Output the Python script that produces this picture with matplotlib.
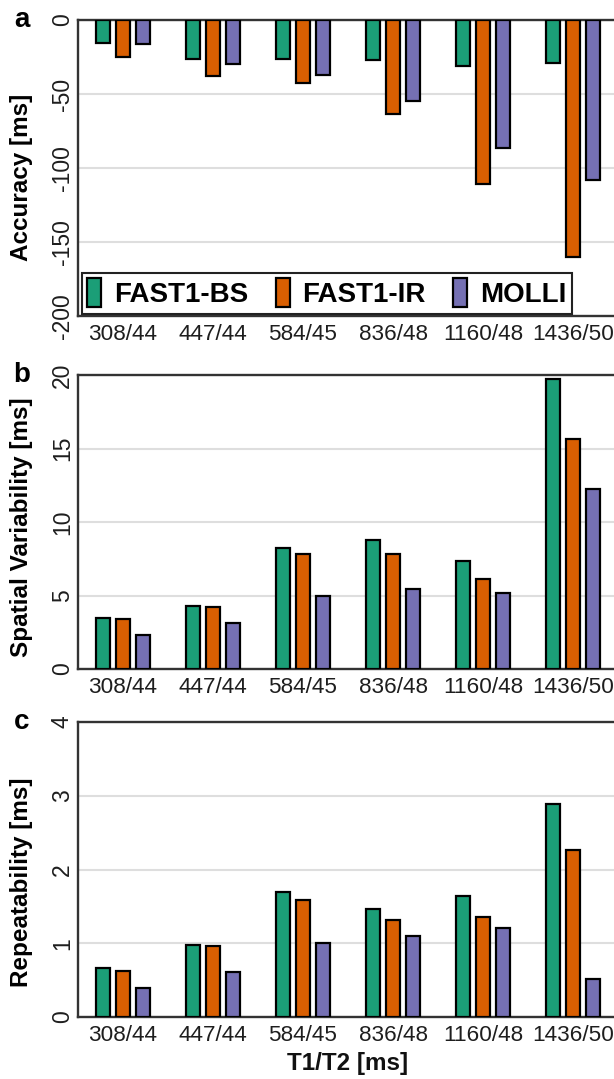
import matplotlib
matplotlib.use("Agg")
import matplotlib.pyplot as plt
import numpy as np

plt.rcParams['font.family'] = ['Liberation Sans', 'DejaVu Sans']
plt.rcParams['axes.unicode_minus'] = False

categories = ['308/44', '447/44', '584/45', '836/48', '1160/48', '1436/50']
series_names = ['FAST1-BS', 'FAST1-IR', 'MOLLI']
colors = ['#1b9e77', '#d95f02', '#7570b3']

accuracy_bs = [-15.5, -26.5, -26.5, -27.0, -31.0, -28.8]
accuracy_ir = [-25.0, -37.5, -42.5, -63.5, -110.8, -159.8]
accuracy_molli = [-16.0, -29.5, -37.0, -55.0, -86.3, -108.3]

spatial_bs = [3.45, 4.3, 8.25, 8.75, 7.35, 19.7]
spatial_ir = [3.42, 4.2, 7.85, 7.8, 6.1, 15.65]
spatial_molli = [2.33, 3.1, 4.95, 5.45, 5.15, 12.25]

repeat_bs = [0.66, 0.97, 1.69, 1.46, 1.64, 2.89]
repeat_ir = [0.63, 0.96, 1.59, 1.31, 1.35, 2.26]
repeat_molli = [0.40, 0.61, 1.01, 1.10, 1.21, 0.51]

acc_ticks = [0, -50, -100, -150, -200]
acc_ticklabels = ['0', '-50', '-100', '-150', '-200']
sp_ticks = [0, 5, 10, 15, 20]
sp_ticklabels = ['0', '5', '10', '15', '20']
rep_ticks = [0, 1, 2, 3, 4]
rep_ticklabels = ['0', '1', '2', '3', '4']

W, H = 614, 1079
fig = plt.figure(figsize=(W / 100, H / 100), dpi=100)

left_px, right_px = 78, 618
panels = [
    (20, 316, 'Accuracy [ms]', [accuracy_bs, accuracy_ir, accuracy_molli], (-200, 0), acc_ticks, acc_ticklabels, 'a', 0.468),
    (375, 669, 'Spatial Variability [ms]', [spatial_bs, spatial_ir, spatial_molli], (0, 20), sp_ticks, sp_ticklabels, 'b', 0.481),
    (722, 1017, 'Repeatability [ms]', [repeat_bs, repeat_ir, repeat_molli], (0, 4), rep_ticks, rep_ticklabels, 'c', 0.456),
]

x = np.arange(1, len(categories) + 1)
offset = 0.222
bw = 0.16
txtcol = '#1e1e1e'
spcol = '#333333'

axes = []
for top, bot, ylabel, data, ylim, ticks, ticklabels, letter, ly in panels:
    ax = fig.add_axes([left_px / W, 1 - bot / H, (right_px - left_px) / W, (bot - top) / H])
    axes.append(ax)
    ax.set_axisbelow(True)
    ax.yaxis.grid(True, color='#dedede', linewidth=1.5)
    for i, (vals, col, name) in enumerate(zip(data, colors, series_names)):
        ax.bar(x + (i - 1) * offset, vals, width=bw, color=col, edgecolor='black',
               linewidth=1.6, label=name, zorder=3)
    ax.set_xlim(0.5, 6.5)
    ax.set_ylim(*ylim)
    ax.set_yticks(ticks)
    ax.set_yticklabels(ticklabels, rotation=90, va='center', fontsize=16.5, color=txtcol)
    ax.set_xticks(x)
    ax.set_xticklabels(categories, fontsize=16.2, color=txtcol)
    ax.tick_params(axis='both', length=0)
    ax.tick_params(axis='x', pad=6)
    ax.tick_params(axis='y', pad=3)
    for s in ax.spines.values():
        s.set_color(spcol)
        s.set_linewidth(1.7)
    ax.set_ylabel(ylabel, fontsize=17.5, fontweight='bold', va='center', color='black')
    ax.yaxis.set_label_coords(-(left_px - 22) / (right_px - left_px), ly)
    fig.text(22 / W, 1 - top / H, letter, fontsize=20, fontweight='bold', ha='center', va='center')

leg = axes[0].legend(loc='lower left', bbox_to_anchor=(0.007, 0.008), borderaxespad=0,
                     ncol=3, prop={'weight': 'bold', 'size': 20},
                     handlelength=0.5, handleheight=1.2, handletextpad=0.45,
                     columnspacing=1.0, borderpad=0.2, fancybox=False, framealpha=1)
leg.get_frame().set_edgecolor('#222222')
leg.get_frame().set_linewidth(1.5)

axes[2].set_xlabel('T1/T2 [ms]', fontsize=17.5, fontweight='bold', color='#111111', labelpad=4)

fig.savefig('out.png', dpi=100)
